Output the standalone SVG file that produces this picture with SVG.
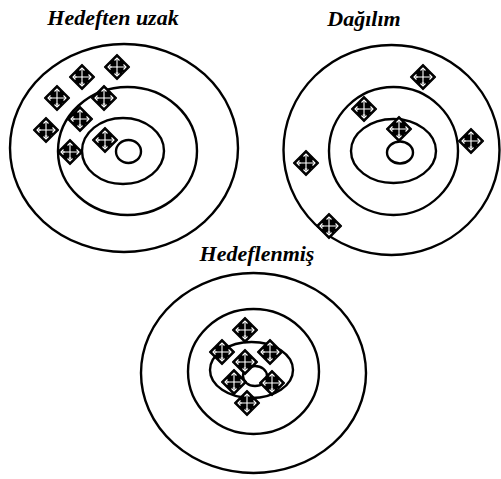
<svg xmlns="http://www.w3.org/2000/svg" width="501" height="479" viewBox="0 0 501 479">
<style>
.ring{fill:none;stroke:#000;stroke-width:2.4}
.lbl{font-family:"Liberation Serif",serif;font-weight:bold;font-style:italic;font-size:22px;fill:#000;text-anchor:middle}
.wx{stroke:#fff;stroke-width:1.1;fill:none}
</style>
<defs>
<g id="mk">
<path d="M0,-12.5 L7.5,-5 L-7.5,-5 Z M0,12.5 L7.5,5 L-7.5,5 Z M-12.5,0 L-5,7.5 L-5,-7.5 Z M12.5,0 L5,7.5 L5,-7.5 Z M0,-8 L8,0 L0,8 L-8,0 Z" fill="#000" stroke="#000" stroke-width="1.2" stroke-linejoin="round"/>
<path class="wx" d="M0,-9 V9 M-9,0 H9"/>
<path class="wx" stroke-width="0.9" d="M-2.5,-6.5 L0,-9 L2.5,-6.5 M-2.5,6.5 L0,9 L2.5,6.5 M-6.5,-2.5 L-9,0 L-6.5,2.5 M6.5,-2.5 L9,0 L6.5,2.5"/>
</g>
</defs>
<text class="lbl" x="113" y="25">Hedeften uzak</text>
<text class="lbl" x="364" y="26">Dağılım</text>
<text class="lbl" x="257" y="261">Hedeflenmiş</text>
<g id="target1">
<ellipse class="ring" cx="124" cy="148" rx="114" ry="104"/>
<ellipse class="ring" cx="127.5" cy="151" rx="69.5" ry="64"/>
<ellipse class="ring" cx="123" cy="151" rx="41" ry="33"/>
<ellipse class="ring" cx="128.5" cy="151.5" rx="12.5" ry="11.5"/>
<use href="#mk" x="117" y="67"/>
<use href="#mk" x="82" y="77"/>
<use href="#mk" x="57" y="98"/>
<use href="#mk" x="104" y="98"/>
<use href="#mk" x="80" y="119"/>
<use href="#mk" x="46" y="130"/>
<use href="#mk" x="105" y="140"/>
<use href="#mk" x="70" y="152"/>
</g>
<g id="target2">
<ellipse class="ring" cx="391.5" cy="150" rx="108" ry="105"/>
<ellipse class="ring" cx="393.5" cy="151" rx="64.5" ry="64"/>
<ellipse class="ring" cx="393.5" cy="151" rx="42.5" ry="32"/>
<ellipse class="ring" cx="400" cy="152.5" rx="13" ry="11"/>
<use href="#mk" x="423" y="77"/>
<use href="#mk" x="364" y="109"/>
<use href="#mk" x="399" y="129"/>
<use href="#mk" x="471" y="141"/>
<use href="#mk" x="306" y="163"/>
<use href="#mk" x="329" y="226"/>
</g>
<g id="target3">
<ellipse class="ring" cx="253.5" cy="373" rx="112.5" ry="100"/>
<ellipse class="ring" cx="253.5" cy="371.5" rx="65.5" ry="62.5"/>
<ellipse class="ring" cx="251.5" cy="370" rx="41.5" ry="28"/>
<ellipse class="ring" cx="255" cy="376" rx="12" ry="10"/>
<use href="#mk" x="245" y="330"/>
<use href="#mk" x="222" y="352"/>
<use href="#mk" x="270" y="352"/>
<use href="#mk" x="245" y="362"/>
<use href="#mk" x="234" y="382"/>
<use href="#mk" x="272" y="383"/>
<use href="#mk" x="247" y="403"/>
</g>
</svg>
